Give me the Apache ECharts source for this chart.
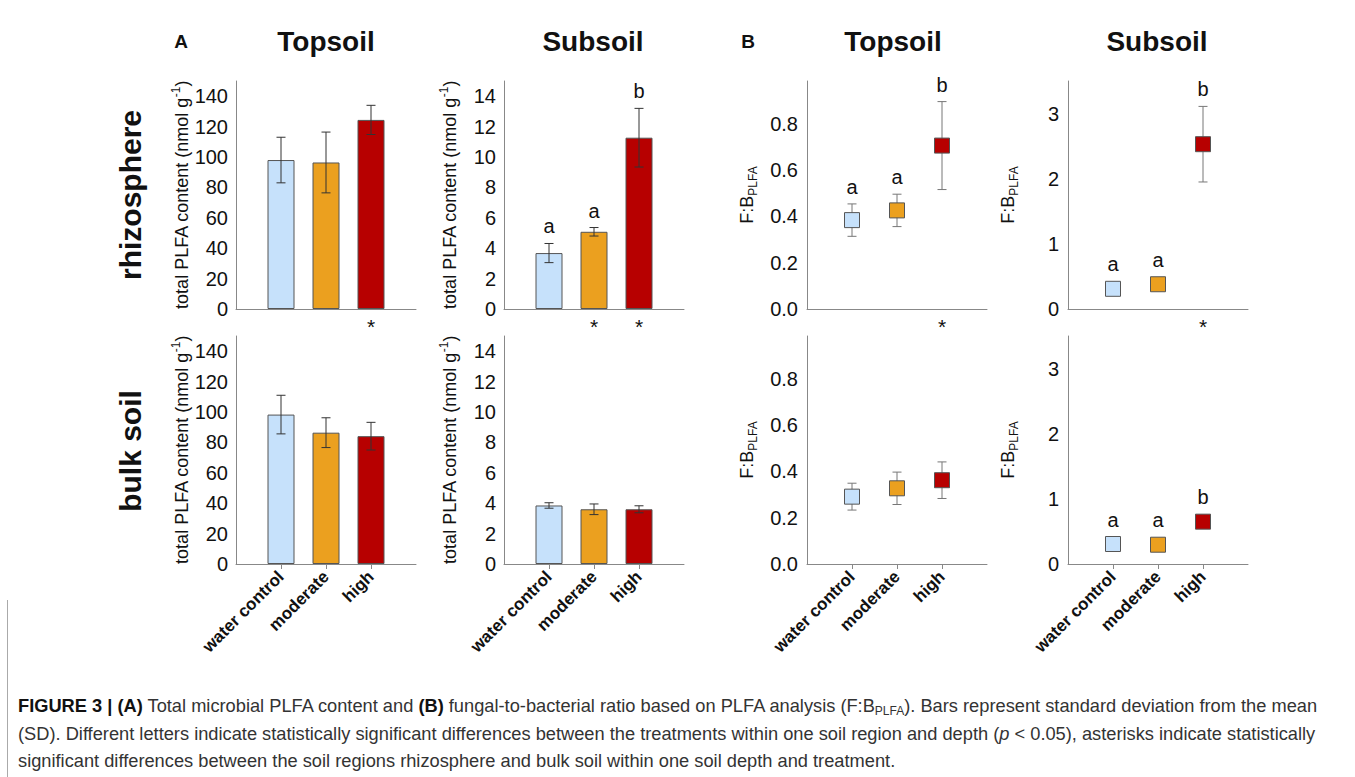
<!DOCTYPE html>
<html><head><meta charset="utf-8">
<script src="https://cdn.jsdelivr.net/npm/echarts@6/dist/echarts.min.js"></script>
<style>
html,body{margin:0;padding:0;background:#fff;width:1355px;height:777px;overflow:hidden;}
#chart{position:absolute;left:0;top:0;width:1355px;height:680px;}
#caption{position:absolute;left:18px;top:692px;font-family:"Liberation Sans",Arial,sans-serif;font-size:18.25px;line-height:27.5px;color:#333;white-space:nowrap;}
#caption b{color:#111;}
#caption sub{font-size:12px;line-height:0;vertical-align:-3px;}
#border{position:absolute;left:7px;top:600px;width:1px;height:177px;background:#aaa;z-index:2;}
</style></head><body>
<div id="chart"></div>
<div id="border"></div>
<div id="caption"><b>FIGURE 3 |</b> <b>(A)</b> Total microbial PLFA content and <b>(B)</b> fungal-to-bacterial ratio based on PLFA analysis (F:B<sub>PLFA</sub>). Bars represent standard deviation from the mean<br>(SD). Different letters indicate statistically significant differences between the treatments within one soil region and depth (<i>p</i> &lt; 0.05), asterisks indicate statistically<br>significant differences between the soil regions rhizosphere and bulk soil within one soil depth and treatment.</div>
<script>
// ---- data ----
const categories = ['water control', 'moderate', 'high'];
const colors = ['#c6e1fb', '#eba01f', '#b70000'];

const plfaTopRhizo = [98, 96.4, 124.4];
const plfaTopRhizoSD = [15, 20, 9.6];
const plfaSubRhizo = [3.68, 5.08, 11.27];
const plfaSubRhizoSD = [0.63, 0.28, 1.93];
const plfaTopBulk = [98.3, 86.4, 84.1];
const plfaTopBulkSD = [12.7, 9.8, 9.1];
const plfaSubBulk = [3.85, 3.6, 3.6];
const plfaSubBulkSD = [0.18, 0.35, 0.23];

const fbTopRhizo = [0.384, 0.426, 0.706];
const fbTopRhizoSD = [0.07, 0.07, 0.19];
const fbSubRhizo = [0.31, 0.38, 2.53];
const fbSubRhizoSD = [0.08, 0.08, 0.58];
const fbTopBulk = [0.291, 0.327, 0.362];
const fbTopBulkSD = [0.058, 0.07, 0.079];
const fbSubBulk = [0.307, 0.296, 0.65];
const fbSubBulkSD = [0.08, 0.08, 0.08];

const lettersSubRhizo = ['a', 'a', 'b'];
const lettersFbTopRhizo = ['a', 'a', 'b'];
const lettersFbSubRhizo = ['a', 'a', 'b'];
const lettersFbSubBulk = ['a', 'a', 'b'];

const starsTopA = [false, false, true];
const starsSubA = [false, true, true];
const starsTopB = [false, false, true];
const starsSubB = [false, false, true];

const ticksA_top = { max: 150, interval: 20 };
const ticksA_sub = { max: 15, interval: 2 };
const ticksB_top = { max: 0.985, interval: 0.2 };
const ticksB_sub = { max: 3.5, interval: 1 };

// ---- layout ----
const FONT = '"Liberation Sans", Arial, sans-serif';
const colLeft = [236, 504, 807, 1068];
const rowTop = [81, 336];
const W = 180, H = 228;
const SQ = 15;

const panels = [
  { col: 0, row: 0, kind: 'bar', v: plfaTopRhizo, sd: plfaTopRhizoSD, ax: ticksA_top, dec: 0, letters: null, stars: starsTopA },
  { col: 1, row: 0, kind: 'bar', v: plfaSubRhizo, sd: plfaSubRhizoSD, ax: ticksA_sub, dec: 0, letters: lettersSubRhizo, stars: starsSubA },
  { col: 2, row: 0, kind: 'sq', v: fbTopRhizo, sd: fbTopRhizoSD, ax: ticksB_top, dec: 1, letters: lettersFbTopRhizo, stars: starsTopB },
  { col: 3, row: 0, kind: 'sq', v: fbSubRhizo, sd: fbSubRhizoSD, ax: ticksB_sub, dec: 0, letters: lettersFbSubRhizo, stars: starsSubB },
  { col: 0, row: 1, kind: 'bar', v: plfaTopBulk, sd: plfaTopBulkSD, ax: ticksA_top, dec: 0, letters: null },
  { col: 1, row: 1, kind: 'bar', v: plfaSubBulk, sd: plfaSubBulkSD, ax: ticksA_sub, dec: 0, letters: null },
  { col: 2, row: 1, kind: 'sq', v: fbTopBulk, sd: fbTopBulkSD, ax: ticksB_top, dec: 1, letters: null },
  { col: 3, row: 1, kind: 'sq', v: fbSubBulk, sd: fbSubBulkSD, ax: ticksB_sub, dec: 0, letters: lettersFbSubBulk }
];

const slots = [' '].concat(categories, ['  ']);
const inCat = (idx) => idx >= 1 && idx <= categories.length;

const richA = {
  n: { fontSize: 18, fontFamily: FONT, color: '#111', lineHeight: 24 },
  s: { fontSize: 12, fontFamily: FONT, color: '#111', lineHeight: 12, verticalAlign: 'top' }
};
const richB = {
  n: { fontSize: 18, fontFamily: FONT, color: '#111', lineHeight: 24 },
  s: { fontSize: 12, fontFamily: FONT, color: '#111', lineHeight: 12, verticalAlign: 'bottom' }
};

const grid = [], xAxis = [], yAxis = [], series = [];
panels.forEach((p, i) => {
  grid.push({ left: colLeft[p.col], top: rowTop[p.row], width: W, height: H });
  const bottomRow = p.row === 1;
  xAxis.push({
    type: 'category', gridIndex: i, boundaryGap: false, data: slots,
    axisLine: { show: true, onZero: false, lineStyle: { color: '#888', width: 1 } },
    axisTick: { show: bottomRow, length: 5, interval: inCat, lineStyle: { color: '#888' } },
    axisLabel: bottomRow
      ? { show: true, interval: inCat, rotate: 45, margin: 10, fontSize: 17, fontWeight: 'bold', color: '#111', fontFamily: FONT }
      : { show: true, interval: inCat, margin: 7, fontSize: 21, color: '#111', fontFamily: FONT,
          formatter: (val, idx) => (p.stars[idx - 1] ? '*' : '') },
    splitLine: { show: false }
  });
  const isA = p.kind === 'bar';
  yAxis.push({
    type: 'value', gridIndex: i, min: 0, max: p.ax.max, interval: p.ax.interval,
    axisLine: { show: true, lineStyle: { color: '#888', width: 1 } },
    axisTick: { show: false }, splitLine: { show: false },
    axisLabel: {
      fontSize: 20, color: '#111', margin: isA ? 8 : 9, fontFamily: FONT,
      formatter: (val) => {
        const r = val / p.ax.interval;
        if (Math.abs(r - Math.round(r)) > 1e-6) return '';
        return val.toFixed(p.dec);
      }
    },
    name: isA ? '{n|total PLFA content (nmol g}{s|-1}{n|)}' : '{n|F:B}{s|PLFA}',
    nameLocation: 'middle', nameRotate: 90, nameGap: isA ? 42 : 48,
    nameTextStyle: { fontSize: 18, rich: isA ? richA : richB }
  });

  const errColor = isA ? '#333' : '#777';
  const errSeries = {
    type: 'custom', xAxisIndex: i, yAxisIndex: i, silent: true, z: isA ? 4 : 1,
    data: p.v.map((v, k) => [k + 1, v, p.sd[k]]),
    renderItem: (params, api) => {
      const x = api.value(0), v = api.value(1), e = api.value(2);
      const t = api.coord([x, v + e]), b = api.coord([x, v - e]);
      const hw = 4.5;
      const st = { stroke: errColor, lineWidth: 1 };
      return {
        type: 'group', children: [
          { type: 'line', shape: { x1: t[0], y1: t[1], x2: b[0], y2: b[1] }, style: st },
          { type: 'line', shape: { x1: t[0] - hw, y1: t[1], x2: t[0] + hw, y2: t[1] }, style: st },
          { type: 'line', shape: { x1: b[0] - hw, y1: b[1], x2: b[0] + hw, y2: b[1] }, style: st }
        ]
      };
    }
  };
  if (isA) {
    series.push({
      type: 'bar', xAxisIndex: i, yAxisIndex: i, barWidth: 27, silent: true, z: 2,
      itemStyle: { borderColor: '#555', borderWidth: 1 },
      data: p.v.map((v, k) => ({ value: [k + 1, v], itemStyle: { color: colors[k] } }))
    });
    series.push(errSeries);
  } else {
    series.push(errSeries);
    series.push({
      type: 'scatter', xAxisIndex: i, yAxisIndex: i, symbol: 'rect', symbolSize: SQ, silent: true, z: 3,
      itemStyle: { borderColor: '#555', borderWidth: 1, opacity: 1 },
      data: p.v.map((v, k) => ({ value: [k + 1, v], itemStyle: { color: colors[k] } }))
    });
  }
  if (p.letters) {
    const markHalf = isA ? 0 : SQ / 2;
    series.push({
      type: 'custom', xAxisIndex: i, yAxisIndex: i, silent: true, z: 5,
      data: p.v.map((v, k) => [k + 1, v, p.sd[k]]),
      renderItem: (params, api) => {
        const x = api.value(0), v = api.value(1), e = api.value(2);
        const pe = api.coord([x, v + e]);
        const pv = api.coord([x, v]);
        const topY = Math.min(pe[1], pv[1] - markHalf);
        return {
          type: 'text', x: pe[0], y: topY - 7,
          style: { text: p.letters[params.dataIndex], font: '20px ' + FONT, fill: '#111', textAlign: 'center', textVerticalAlign: 'bottom' }
        };
      }
    });
  }
});

const titleFont = (sz) => 'bold ' + sz + 'px ' + FONT;
const graphic = [
  { type: 'text', x: 181, y: 41, style: { text: 'A', font: titleFont(19), fill: '#111', textAlign: 'center', textVerticalAlign: 'middle' } },
  { type: 'text', x: 326, y: 41, style: { text: 'Topsoil', font: titleFont(28), fill: '#111', textAlign: 'center', textVerticalAlign: 'middle' } },
  { type: 'text', x: 593, y: 41, style: { text: 'Subsoil', font: titleFont(28), fill: '#111', textAlign: 'center', textVerticalAlign: 'middle' } },
  { type: 'text', x: 748, y: 41, style: { text: 'B', font: titleFont(19), fill: '#111', textAlign: 'center', textVerticalAlign: 'middle' } },
  { type: 'text', x: 893, y: 41, style: { text: 'Topsoil', font: titleFont(28), fill: '#111', textAlign: 'center', textVerticalAlign: 'middle' } },
  { type: 'text', x: 1157, y: 41, style: { text: 'Subsoil', font: titleFont(28), fill: '#111', textAlign: 'center', textVerticalAlign: 'middle' } },
  { type: 'text', x: 130, y: 195, rotation: Math.PI / 2, style: { text: 'rhizosphere', font: titleFont(30), fill: '#111', textAlign: 'center', textVerticalAlign: 'middle' } },
  { type: 'text', x: 130, y: 451, rotation: Math.PI / 2, style: { text: 'bulk soil', font: titleFont(30), fill: '#111', textAlign: 'center', textVerticalAlign: 'middle' } }
];

const chart = echarts.init(document.getElementById('chart'), null, { renderer: 'svg' });
chart.setOption({
  animation: false,
  backgroundColor: '#fff',
  textStyle: { fontFamily: FONT },
  grid, xAxis, yAxis, series, graphic
});
</script>
</body></html>
